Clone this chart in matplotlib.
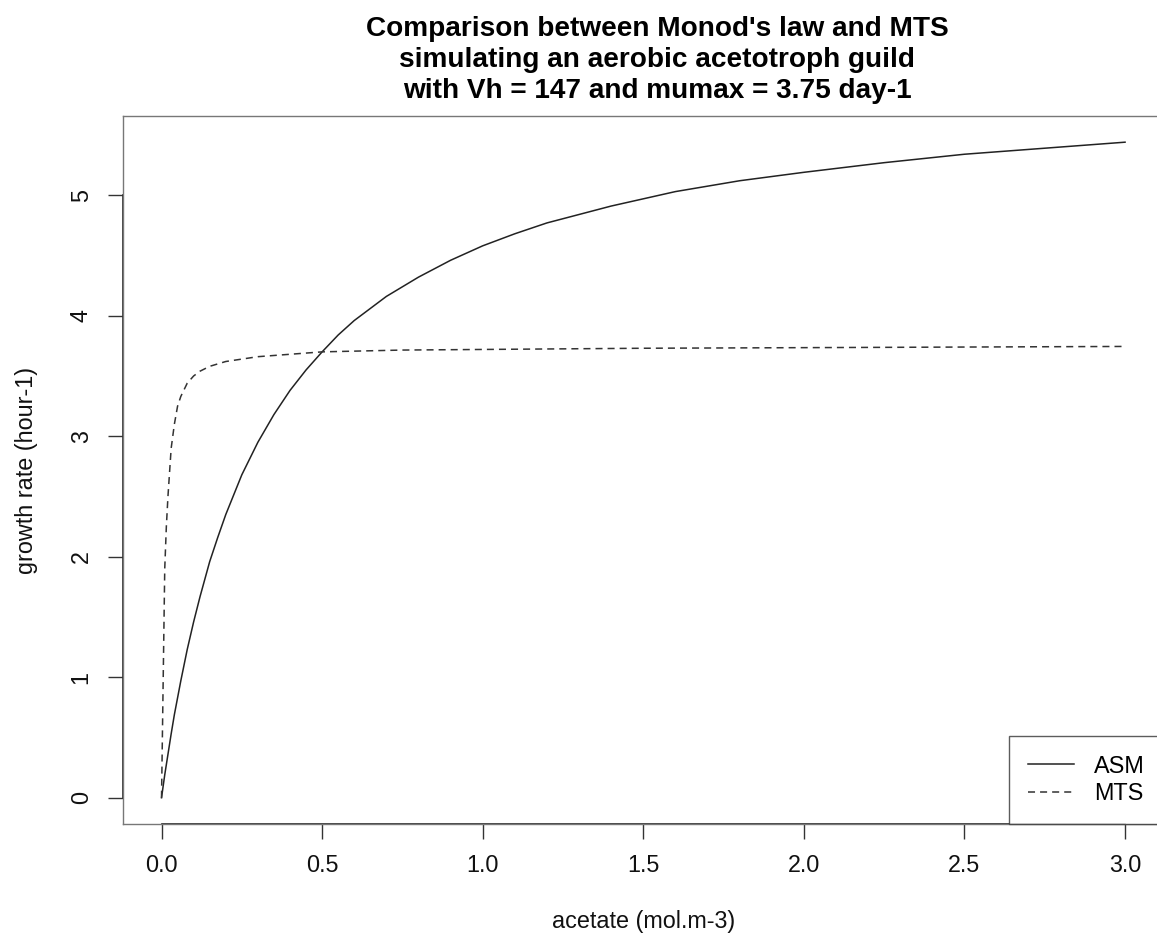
import matplotlib
matplotlib.use("Agg")
import matplotlib.pyplot as plt
from matplotlib.lines import Line2D

plt.rcParams['font.family'] = ['Liberation Sans', 'DejaVu Sans']

# --- data ---
acetate_asm = [0.0, 0.005, 0.01, 0.02, 0.03, 0.04, 0.05, 0.06, 0.08, 0.1, 0.12,
               0.15, 0.175, 0.2, 0.25, 0.3, 0.35, 0.4, 0.45, 0.5, 0.55, 0.6, 0.65,
               0.7, 0.8, 0.9, 1.0, 1.1, 1.2, 1.3, 1.4, 1.6, 1.8, 2.0, 2.25, 2.5,
               2.75, 3.0]
rate_asm = [0.0, 0.095, 0.19, 0.36, 0.53, 0.69, 0.83, 0.97, 1.23, 1.46, 1.67,
            1.96, 2.16, 2.35, 2.68, 2.95, 3.18, 3.38, 3.55, 3.70, 3.84, 3.96, 4.06,
            4.16, 4.32, 4.46, 4.58, 4.68, 4.77, 4.84, 4.91, 5.03, 5.12, 5.19, 5.27,
            5.34, 5.39, 5.44]

acetate_mts = [0.0, 0.01, 0.015, 0.02, 0.03, 0.04, 0.05, 0.06, 0.08, 0.1, 0.12,
               0.15, 0.2, 0.3, 0.5, 0.75, 1.0, 1.5, 2.0, 2.5, 3.0]
rate_mts = [0.0, 1.90, 2.25, 2.50, 2.90, 3.10, 3.25, 3.33, 3.44, 3.50, 3.54,
            3.58, 3.62, 3.66, 3.70, 3.715, 3.72, 3.73, 3.735, 3.74, 3.745]

series_labels = ["ASM", "MTS"]
x_ticks = [0.0, 0.5, 1.0, 1.5, 2.0, 2.5, 3.0]
y_ticks = [0, 1, 2, 3, 4, 5]

title = ("Comparison between Monod's law and MTS\n"
         "simulating an aerobic acetotroph guild\n"
         "with Vh = 147 and mumax = 3.75 day-1")

fs = 16.8
dash = (0, (4.6, 3.3))

# --- figure ---
fig = plt.figure(figsize=(11.57, 9.42), dpi=100)
ax = fig.add_axes([0.1063, 0.1253, 0.8994, 0.7516])

ax.plot(acetate_asm, rate_asm, color='#222222', lw=1.1, ls='-')
ax.plot(acetate_mts, rate_mts, color='#333333', lw=1.1, ls=dash)

xpad = 0.04 * (max(acetate_asm) - min(acetate_asm))
ypad = 0.04 * (max(rate_asm) - min(rate_asm))
x0, x1 = min(acetate_asm) - xpad, max(acetate_asm) + xpad
y0, y1 = min(rate_asm) - ypad, max(rate_asm) + ypad
ax.set_xlim(x0, x1)
ax.set_ylim(y0, y1)

for s in ax.spines.values():
    s.set_color('#777777')
    s.set_linewidth(1.0)
# R-style axis lines over the tick range
ax.plot([x_ticks[0], x_ticks[-1]], [y0, y0], color='#222222', lw=1.2, clip_on=False)
ax.plot([x0, x0], [y_ticks[0], y_ticks[-1]], color='#222222', lw=1.2, clip_on=False)

ax.set_xticks(x_ticks)
ax.set_xticklabels([f"{v:.1f}" for v in x_ticks])
ax.set_yticks(y_ticks)
ax.set_yticklabels([str(v) for v in y_ticks], rotation=90, va='center')
ax.tick_params(direction='out', length=10.8, width=1.0, color='#333333',
               labelsize=fs, labelcolor='#111111', pad=11)

ax.set_xlabel("acetate (mol.m-3)", fontsize=fs, color='#111111', va='top')
ax.xaxis.set_label_coords(0.5, -0.1215)
ax.set_ylabel("growth rate (hour-1)", fontsize=fs, color='#111111', va='bottom')
ax.yaxis.set_label_coords(-0.0817, 0.5)

fig.text(657 / 1157, 1 - 98 / 942, title, ha='center', va='baseline',
         fontsize=20.2, fontweight='bold', linespacing=1.25)

handles = [Line2D([], [], color='#222222', lw=1.1, ls='-'),
           Line2D([], [], color='#333333', lw=1.1, ls=dash)]
leg = ax.legend(handles, series_labels, loc='lower right', fontsize=fs,
                frameon=True, fancybox=False, borderaxespad=0,
                handlelength=1.97, handletextpad=0.86, borderpad=0.8,
                labelspacing=0.2)
leg.get_frame().set_edgecolor('#333333')
leg.get_frame().set_linewidth(1.0)

fig.savefig("out.png", dpi=100)
